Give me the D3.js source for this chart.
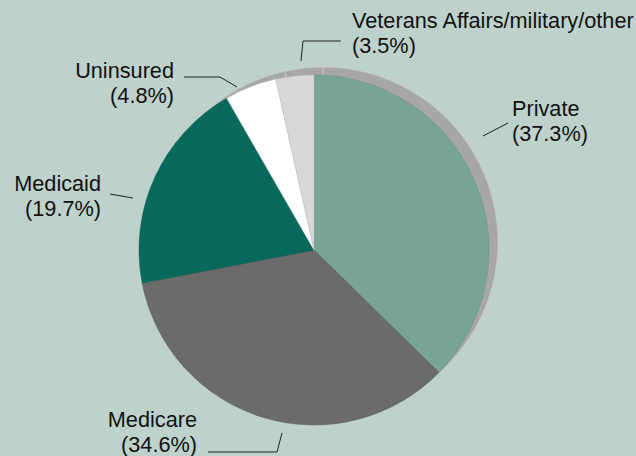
<!DOCTYPE html>
<html>
<head>
<meta charset="utf-8">
<script src="https://cdn.jsdelivr.net/npm/d3@7"></script>
<style>
  html, body { margin: 0; padding: 0; background: #bed1ca; }
  svg { display: block; }
  text { font-family: "Liberation Sans", Arial, Helvetica, sans-serif; font-size: 21.7px; fill: #111; }
</style>
</head>
<body>
<div id="chart"></div>
<script>
// data, clockwise from 12 o'clock
var categories = ["Private", "Medicare", "Medicaid", "Uninsured", "Veterans Affairs/military/other"];
var shares = [37.3, 34.6, 19.7, 4.8, 3.5];
var colors = ["#78a498", "#6b6b6b", "#07695b", "#ffffff", "#d8d8d8"];

// label placement (annotation layout only)
var labelLayout = [
  {x: 512, y: 116, anchor: "start", leader: [[483, 136], [508, 123]]},
  {x: 197, y: 427, anchor: "end",   leader: [[208, 452], [277, 452], [282, 433]]},
  {x: 101, y: 191, anchor: "end",   leader: [[110, 194], [133, 198]]},
  {x: 174, y: 78,  anchor: "end",   leader: [[184, 77], [220, 77], [237, 87]]},
  {x: 352, y: 28,  anchor: "start", leader: [[341, 41], [303, 41], [301, 61]]}
];

var width = 636, height = 456;
var cx = 314, cy = 250, radius = 175;

var svg = d3.select("#chart")
  .append("svg")
    .attr("width", width)
    .attr("height", height);

svg.append("rect")
  .attr("width", width)
  .attr("height", height)
  .attr("fill", "#bed1ca");

var data = categories.map(function(c, i) { return {name: c, value: shares[i], color: colors[i]}; });

var pie = d3.pie()
  .sort(null)
  .value(function(d) { return d.value; });

var arc = d3.arc()
  .innerRadius(0)
  .outerRadius(radius);

var arcs = pie(data);

// offset gray "edge" behind the pie
svg.append("g")
    .attr("transform", `translate(${cx + 9},${cy - 8})`)
  .selectAll("path")
  .data(arcs)
  .join("path")
    .attr("d", arc)
    .attr("fill", "#a7a7a7")
    .attr("stroke", "#c9c9c9")
    .attr("stroke-width", 0.8);

svg.append("g")
    .attr("transform", `translate(${cx},${cy})`)
  .selectAll("path")
  .data(arcs)
  .join("path")
    .attr("d", arc)
    .attr("fill", function(d) { return d.data.color; })
    .attr("stroke", function(d) { return d3.color(d.data.color).darker(0.4); })
    .attr("stroke-width", 0.5);

// labels + leader lines
var line = d3.line();
arcs.forEach(function(a, i) {
  var L = labelLayout[i];
  svg.append("path")
    .attr("d", line(L.leader))
    .attr("fill", "none")
    .attr("stroke", "#222")
    .attr("stroke-width", 1);
  var t = svg.append("text")
    .attr("x", L.x)
    .attr("y", L.y)
    .attr("text-anchor", L.anchor);
  t.append("tspan").attr("x", L.x).text(a.data.name);
  t.append("tspan").attr("x", L.x).attr("dy", 25).text("(" + d3.format(".1f")(a.data.value) + "%)");
});
</script>
</body>
</html>
